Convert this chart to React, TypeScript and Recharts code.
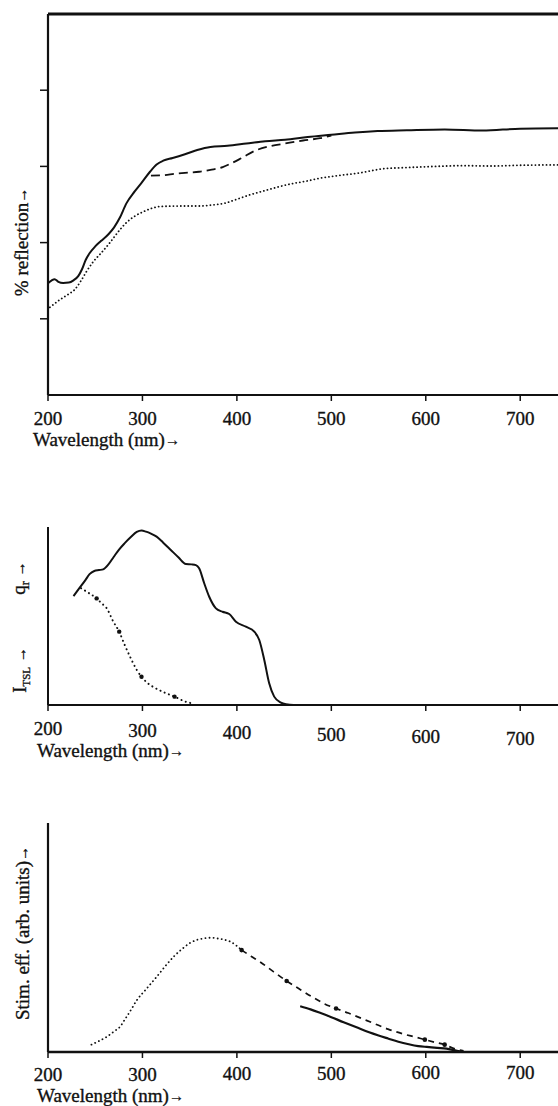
import { LineChart, Line, XAxis, YAxis, ReferenceLine, Label } from "recharts";

const FONT = "'Liberation Serif', 'Times New Roman', Times, serif";
const ink = "#111";

const wavelengthTicks = [200, 300, 400, 500, 600, 700];
const reflTicks = [20, 40, 60, 80];

// top panel: % reflection (nm, value)
const reflSolid: [number, number][] = [
  [200, 29.3], [204, 30.1], [207, 30.4], [211, 29.7], [216, 29.4], [222, 29.5],
  [227, 30.1], [232, 31.2], [236, 33], [240, 35.5], [244, 37.2], [250, 39],
  [256, 40.4], [264, 42.2], [270, 44], [276, 46.5], [283, 50.3], [292, 53.5],
  [300, 56], [308, 58.6], [315, 60.5], [322, 61.5], [332, 62.2], [345, 63.2],
  [358, 64.3], [372, 65.1], [390, 65.4], [410, 66], [430, 66.6], [451, 67],
  [475, 67.7], [500, 68.3], [525, 68.9], [549, 69.3], [580, 69.5], [620, 69.7],
  [660, 69.4], [700, 69.9], [740, 70],
];
const reflDashed: [number, number][] = [
  [309, 57.6], [322, 57.7], [335, 58.1], [345, 58.3], [360, 58.6], [372, 59.1],
  [385, 59.8], [394, 60.8], [405, 62.2], [420, 64.2], [435, 65.3], [451, 66],
  [470, 66.8], [488, 67.4], [500, 68.1],
];
const reflDotted: [number, number][] = [
  [202, 23], [212, 24.9], [220, 26.2], [228, 27.6], [235, 30], [241, 32.5],
  [248, 35], [256, 37.2], [264, 39.5], [273, 42.4], [282, 45], [291, 46.8],
  [300, 48], [310, 49], [320, 49.5], [340, 49.6], [360, 49.6], [375, 49.9],
  [388, 50.4], [398, 51.2], [412, 52.4], [432, 53.8], [455, 55.3], [475, 56.2],
  [488, 56.9], [505, 57.5], [530, 58.3], [556, 59.4], [580, 59.7], [610, 60],
  [639, 60.2], [670, 60.1], [700, 60.3], [740, 60.4],
];

// middle panel: q_r (solid) and I_TSL (dotted)
const qrSolid: [number, number][] = [
  [227, 61.2], [233, 65.5], [239.6, 70.2], [244, 73.5], [249, 75.3], [254, 75.8],
  [258.4, 76.2], [264, 79], [269.7, 83.3], [275, 87.2], [281, 90.8], [288, 94.5],
  [294, 97.2], [299, 98], [303.7, 97.4], [309, 96.3], [315, 94.6], [322, 91.2],
  [330, 87.1], [338, 83], [346, 79.2], [352, 79], [356.6, 78.6], [360, 76.8],
  [365.4, 68.4], [370.7, 60.8], [377.8, 54.3], [384.8, 52.4], [391.9, 51.1],
  [399, 46.8], [409.5, 44], [418.4, 41.2], [423.7, 36.5], [429, 25.3], [434.2, 12.2],
  [439.5, 4.7], [446.6, 1.3], [452, 0.4], [460, 0], [740, 0],
];
const tslDotted: [number, number][] = [
  [235, 65.6], [243, 63], [251.5, 59.9], [257, 57], [262, 54.5], [269, 47],
  [275.4, 41.2], [281, 34], [287, 27], [294, 19.7], [299, 15.9], [305, 12.5],
  [311, 10.3], [322, 7.3], [334, 4.7], [345, 2], [352, 1],
];
const tslMarks: [number, number][] = [[251.5, 59.9], [275.4, 41.2], [299, 15.9], [334, 4.7]];

// bottom panel: stimulation efficiency
const stimDotted: [number, number][] = [
  [246, 3.2], [254, 4.8], [262, 6.6], [270, 9], [276, 10.9], [282, 14.6],
  [288, 18.5], [294, 22.6], [303, 27], [315, 32.8], [324, 37.4], [333, 41.6],
  [342, 45], [350, 47.5], [358, 49], [365, 49.6], [372, 49.9], [379, 49.6],
  [386, 49.1], [393, 48.2], [399, 46.6], [405, 44.5],
];
const stimDashed: [number, number][] = [
  [405, 44.5], [415, 41.8], [425, 39.2], [439, 35], [452.7, 31], [465, 27.8],
  [480, 24], [493, 21], [505, 19], [518, 17], [530, 15], [545, 12.5],
  [560, 10], [575, 8], [590, 6.4], [599, 5.4], [610, 4.2], [620, 3.2],
  [630, 1.5], [640, 0.5],
];
const stimMarks: [number, number][] = [[405, 44.5], [452.7, 31], [505, 19], [599, 5.4], [620, 3.2]];
const stimSolid: [number, number][] = [
  [467, 20], [478, 18.6], [488, 17.1], [500, 15.2], [513, 13], [526, 10.9],
  [540, 8.6], [550, 7.2], [560, 5.9], [571, 4.5], [582, 3.4], [592, 2.6],
  [601, 2.2], [612, 1.8], [622, 1.5], [633, 0.5], [640, 0],
];

const pts = (arr: [number, number][]) => arr.map(([nm, v]) => ({ nm, v }));

// scanned print looks heavy: thicken glyphs slightly
const txt = { fontFamily: FONT, fontSize: 19, stroke: ink, strokeWidth: 0.35 };

const wlTick = (axisY: number, tilt: number) => (props: any) => {
  const { x, payload } = props;
  const dy = ((payload.value - 200) / 100) * tilt;
  return (
    <text x={x} y={axisY + 30 + dy} textAnchor="middle" style={txt} fill={ink}>
      {payload.value}
    </text>
  );
};

const Arrow = () => (
  <tspan style={{ fontSize: 15 }} dy={-1}>
    →
  </tspan>
);

const wlTitle = (x: number, y: number) => () => (
  <text x={x} y={y} style={txt} fill={ink}>
    Wavelength (nm)<Arrow />
  </text>
);

const noTick = () => <g />;

function vTitle(x: number, y: number, body: any) {
  return (
    <text x={x} y={y} transform={`rotate(-90, ${x}, ${y})`} textAnchor="middle" style={txt} fill={ink}>
      {body}
    </text>
  );
}

const solid = { type: "monotone" as const, stroke: ink, strokeWidth: 2, dot: false, isAnimationActive: false };
const dotted = { ...solid, strokeWidth: 1.8, strokeDasharray: "0.1 3.6", strokeLinecap: "round" as const };

export default function App() {
  return (
    <div style={{ position: "absolute", left: 0, top: 0, width: 558, height: 1106, background: "#fff", fontFamily: FONT }}>
      {/* top panel */}
      <div style={{ position: "absolute", left: 0, top: 0 }}>
        <LineChart width={558} height={460} margin={{ top: 14, right: 0, bottom: 0, left: 0 }}>
          <XAxis
            type="number"
            dataKey="nm"
            domain={[200, 740]}
            ticks={wavelengthTicks}
            interval={0}
            allowDataOverflow
            height={65}
            axisLine={{ stroke: ink, strokeWidth: 2 }}
            tickLine={{ stroke: ink, strokeWidth: 1.5 }}
            tickSize={6}
            tick={wlTick(395, 0)}
          >
            <Label content={wlTitle(33, 446)} />
          </XAxis>
          <YAxis
            type="number"
            domain={[0, 100]}
            ticks={reflTicks}
            interval={0}
            allowDataOverflow
            width={48}
            axisLine={{ stroke: ink, strokeWidth: 2.2 }}
            tickLine={{ stroke: ink, strokeWidth: 1.5 }}
            tickSize={8}
            tick={noTick}
          >
            <Label content={() => vTitle(28, 242, <>% reflection<Arrow /></>)} />
          </YAxis>
          <ReferenceLine y={100} stroke={ink} strokeWidth={3} />
          <Line data={pts(reflDotted)} dataKey="v" {...dotted} />
          <Line data={pts(reflDashed)} dataKey="v" {...solid} strokeWidth={1.8} strokeDasharray="9 5" />
          <Line data={pts(reflSolid)} dataKey="v" {...solid} />
        </LineChart>
      </div>

      {/* middle panel */}
      <div style={{ position: "absolute", left: 0, top: 470 }}>
        <LineChart width={558} height={300} margin={{ top: 57, right: 0, bottom: 0, left: 0 }}>
          <XAxis
            type="number"
            dataKey="nm"
            domain={[200, 740]}
            ticks={wavelengthTicks}
            interval={0}
            allowDataOverflow
            height={65}
            axisLine={{ stroke: ink, strokeWidth: 2 }}
            tickLine={{ stroke: ink, strokeWidth: 1.5 }}
            tickSize={6}
            tick={wlTick(235, 2)}
          >
            <Label content={wlTitle(37, 287)} />
          </XAxis>
          <YAxis
            type="number"
            domain={[0, 100]}
            allowDataOverflow
            width={48}
            axisLine={{ stroke: ink, strokeWidth: 2 }}
            tickLine={false}
            tick={false}
          >
            <Label
              content={() => (
                <g>
                  {vTitle(25, 108, <>q<tspan style={{ fontSize: 12 }} dy={4}>r</tspan><tspan dy={-3}> </tspan><Arrow /></>)}
                  {vTitle(26, 200, <>I<tspan style={{ fontSize: 11 }} dy={4}>TSL</tspan><tspan dy={-3}> </tspan><Arrow /></>)}
                </g>
              )}
            />
          </YAxis>
          <Line data={pts(tslDotted)} dataKey="v" {...dotted} strokeDasharray="0.1 4.5" strokeWidth={2} />
          <Line
            data={pts(tslMarks)}
            dataKey="v"
            type="linear"
            stroke="none"
            dot={{ r: 2.2, fill: ink, stroke: "none" }}
            isAnimationActive={false}
          />
          <Line data={pts(qrSolid)} dataKey="v" {...solid} />
        </LineChart>
      </div>

      {/* bottom panel */}
      <div style={{ position: "absolute", left: 0, top: 780 }}>
        <LineChart width={558} height={326} margin={{ top: 43, right: 0, bottom: 0, left: 0 }}>
          <XAxis
            type="number"
            dataKey="nm"
            domain={[200, 740]}
            ticks={wavelengthTicks}
            interval={0}
            allowDataOverflow
            height={54}
            axisLine={{ stroke: ink, strokeWidth: 2.6 }}
            tickLine={{ stroke: ink, strokeWidth: 1.5 }}
            tickSize={6}
            tick={wlTick(271, -0.5)}
          >
            <Label content={wlTitle(37, 322)} />
          </XAxis>
          <YAxis
            type="number"
            domain={[0, 100]}
            allowDataOverflow
            width={48}
            axisLine={{ stroke: ink, strokeWidth: 2.2 }}
            tickLine={false}
            tick={false}
          >
            <Label content={() => vTitle(29, 153, <>Stim. eff. (arb. units)<Arrow /></>)} />
          </YAxis>
          <Line data={pts(stimDotted)} dataKey="v" {...dotted} strokeDasharray="0.1 4" />
          <Line data={pts(stimDashed)} dataKey="v" {...solid} strokeWidth={1.7} strokeDasharray="6 5" />
          <Line
            data={pts(stimMarks)}
            dataKey="v"
            type="linear"
            stroke="none"
            dot={{ r: 2.3, fill: ink, stroke: "none" }}
            isAnimationActive={false}
          />
          <Line data={pts(stimSolid)} dataKey="v" {...solid} strokeWidth={2.2} />
        </LineChart>
      </div>
    </div>
  );
}
